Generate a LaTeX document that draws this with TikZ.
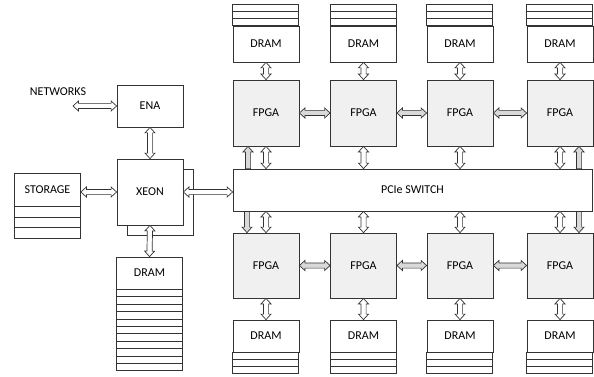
\documentclass[tikz,border=0pt]{standalone}
\usepackage{fontspec}
\setmainfont{Carlito}
\usetikzlibrary{positioning, arrows.meta, calc}

\begin{document}
\begin{tikzpicture}[
  x=1pt, y=-1pt,
  font=\fontsize{12}{14}\selectfont,
  box/.style={draw=black!80, line width=0.8pt, fill=white, minimum width=66pt, inner sep=0pt},
  fpga/.style={box, fill=gray!12, minimum height=66pt},
  hdr/.style={box, minimum height=34pt},
  stripe/.style={draw=black!80, line width=0.8pt, fill=white},
  fat/.style={draw=black!80, line width=0.7pt, fill=white, to path={
    let \p1=(\tikztostart), \p2=(\tikztotarget) in
    (\p1) -- ($(\p1)!5.5pt!(\p2)!5pt!90:(\p2)$) -- ($(\p1)!5.5pt!(\p2)!2.6pt!90:(\p2)$)
    -- ($(\p2)!5.5pt!(\p1)!2.6pt!-90:(\p1)$) -- ($(\p2)!5.5pt!(\p1)!5pt!-90:(\p1)$)
    -- (\p2) -- ($(\p2)!5.5pt!(\p1)!5pt!90:(\p1)$) -- ($(\p2)!5.5pt!(\p1)!2.6pt!90:(\p1)$)
    -- ($(\p1)!5.5pt!(\p2)!2.6pt!-90:(\p2)$) -- ($(\p1)!5.5pt!(\p2)!5pt!-90:(\p2)$) -- cycle}},
  hfat/.style={fat, fill=gray!30},
  onefat/.style={draw=black!80, line width=0.7pt, fill=gray!30, to path={
    let \p1=(\tikztostart), \p2=(\tikztotarget) in
    ($(\p1)!2.6pt!90:(\p2)$) -- ($(\p2)!5.5pt!(\p1)!2.6pt!-90:(\p1)$)
    -- ($(\p2)!5.5pt!(\p1)!5pt!-90:(\p1)$) -- (\p2)
    -- ($(\p2)!5.5pt!(\p1)!5pt!90:(\p1)$) -- ($(\p2)!5.5pt!(\p1)!2.6pt!90:(\p1)$)
    -- ($(\p1)!2.6pt!-90:(\p2)$) -- cycle}}
]
\useasboundingbox (0,0) rectangle (594,377);

% host side
\node[box, minimum height=42pt] (ena) at (150,106) {ENA};
\draw[stripe] (127,169) rectangle (193,235);
\node[box, minimum height=66pt] (xeon) at (150,192) {XEON};
\node[hdr, minimum height=33pt] (stor) at (47.5,189.5) {STORAGE};
\foreach \k in {0,1,2}
  \draw[stripe] ($(stor.south west)+(0,10.7*\k)$) rectangle +(66,10.7);
\node[hdr, minimum height=32pt] (hdram) at (149.5,273) {DRAM};
\foreach \k in {0,...,10}
  \draw[stripe] ($(hdram.south west)+(0,7.4*\k)$) rectangle +(66,7.4);
\node (netw) at (58,92) {NETWORKS};
\coordinate (netend) at (73,106);

% PCIe switch
\node[box, minimum width=359pt, minimum height=42pt] (pcie) at (412.5,190) {PCIe SWITCH};

% FPGA cards with their DRAMs
\foreach \i/\cx in {1/266,2/363.5,3/460,4/560} {
  \node[fpga] (ft\i) at (\cx,113) {FPGA};
  \node[fpga, minimum height=65pt] (fb\i) at (\cx,265.5) {FPGA};
  \node[hdr, minimum height=36pt] (dt\i) at (\cx,44) {DRAM};
  \node[hdr, minimum height=32pt] (db\i) at (\cx,336) {DRAM};
  \foreach \k in {0,1,2} {
    \draw[stripe] ($(dt\i.north west)+(0,-7*\k)$) rectangle +(66,-7);
    \draw[stripe] ($(db\i.south west)+(0,7*\k)$) rectangle +(66,7);
  }
  \draw[fat] (dt\i.south) to (ft\i.north);
  \draw[fat] (db\i.north) to (fb\i.south);
  \draw[fat] (ft\i.south) to (ft\i.south |- pcie.north);
  \draw[fat] (fb\i.north) to (fb\i.north |- pcie.south);
}
\foreach \i/\j in {1/2,2/3,3/4} {
  \draw[hfat] (ft\i.east) to (ft\j.west);
  \draw[hfat] (fb\i.east) to (fb\j.west);
}

% extra links to the switch
\coordinate (h1) at ($(ft1.south)+(-18,0)$);
\coordinate (h2) at ($(fb1.north)+(-19,0)$);
\coordinate (h3) at ($(ft4.south)+(19,0)$);
\coordinate (h4) at ($(fb4.north)+(19,0)$);
\draw[onefat] (h1 |- pcie.north) to (h1);
\draw[onefat] (h2 |- pcie.south) to (h2);
\draw[onefat] (h3 |- pcie.north) to (h3);
\draw[onefat] (h4 |- pcie.south) to (h4);

% host links
\draw[fat] (netend) to (ena.west);
\draw[fat] (ena.south) to (xeon.north);
\draw[fat] (xeon.west) to (xeon.west -| stor.east);
\draw[fat] (xeon.east) to (xeon.east -| pcie.west);
\draw[fat] (xeon.south) to (hdram.north);
\end{tikzpicture}
\end{document}
